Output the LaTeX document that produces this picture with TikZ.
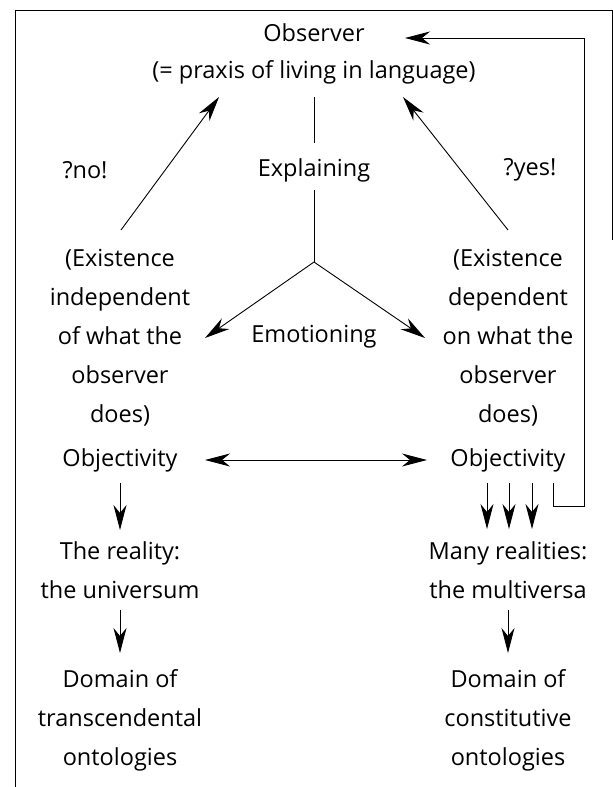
\documentclass[tikz,border=0pt]{standalone}
\usepackage{fontspec}
\setmainfont{Open Sans}
\usetikzlibrary{arrows.meta}
\begin{document}
\begin{tikzpicture}[x=1pt,y=-1pt,
  txt/.style={inner sep=0pt, font=\fontsize{23.5}{39}\selectfont, align=center},
  ln/.style={line width=0.9pt},
  arr/.style={ln, -{Stealth[length=25pt,width=13pt,inset=8pt]}},
  darr/.style={ln, {Stealth[length=25pt,width=13pt,inset=8pt]}-{Stealth[length=25pt,width=13pt,inset=8pt]}},
  frame/.style={line width=1pt}]
\useasboundingbox (0,0) rectangle (613,787);
\draw[frame] (15,787) -- (15,10) -- (612,10) -- (612,240);

% texts
\node[txt] (obs) at (314,33) {Observer};
\node[txt] (praxis) at (314,72) {(= praxis of living in language)};
\node[txt] (expl) at (314,170) {Explaining};
\node[txt] (no) at (85,170) {?no!};
\node[txt] (yes) at (530,170) {?yes!};
\node[txt] (emo) at (314,337) {Emotioning};
\node[txt] (exL) at (120,338) {(Existence\\independent\\of what the\\observer\\does)};
\node[txt] (exR) at (508,338) {(Existence\\dependent\\on what the\\observer\\does)};
\node[txt] (objL) at (120,460) {Objectivity};
\node[txt] (objR) at (508,460) {Objectivity};
\node[txt] (realL) at (120,570) {The reality:\\the universum};
\node[txt] (realR) at (508,570) {Many realities:\\the multiversa};
\node[txt] (domL) at (120,720) {Domain of\\transcendental\\ontologies};
\node[txt] (domR) at (508,720) {Domain of\\constitutive\\ontologies};

% coordinates
\coordinate (la) at (314,97);
\coordinate (lb) at (314,143);
\coordinate (lc) at (314,190);
\coordinate (j) at (314,262);
\coordinate (eL) at (205,338);
\coordinate (eR) at (425,338);
\coordinate (nS) at (121,230);
\coordinate (nT) at (219,97);
\coordinate (yS) at (508,230);
\coordinate (yT) at (403,97);
\coordinate (dL) at (205,460);
\coordinate (dR) at (427,460);
\coordinate (fb) at (553,483);
\coordinate (fbT) at (405,38);

% connectors
\draw[ln] (la) -- (lb);
\draw[ln] (lc) -- (j);
\draw[arr] (j) -- (eL);
\draw[arr] (j) -- (eR);
\draw[arr] (nS) -- (nT);
\draw[arr] (yS) -- (yT);
\draw[darr] (dL) -- (dR);
\draw[arr] (120,483) -- (120,530);
\draw[arr] (487,483) -- (487,529);
\draw[arr] (509,483) -- (509,529);
\draw[arr] (532,483) -- (532,529);
\draw[arr] (120,610) -- (120,653);
\draw[arr] (508,610) -- (508,653);
\draw[arr] (fb) -- (553,506) -- (584,506) -- (584,38) -- (fbT);
\end{tikzpicture}
\end{document}
